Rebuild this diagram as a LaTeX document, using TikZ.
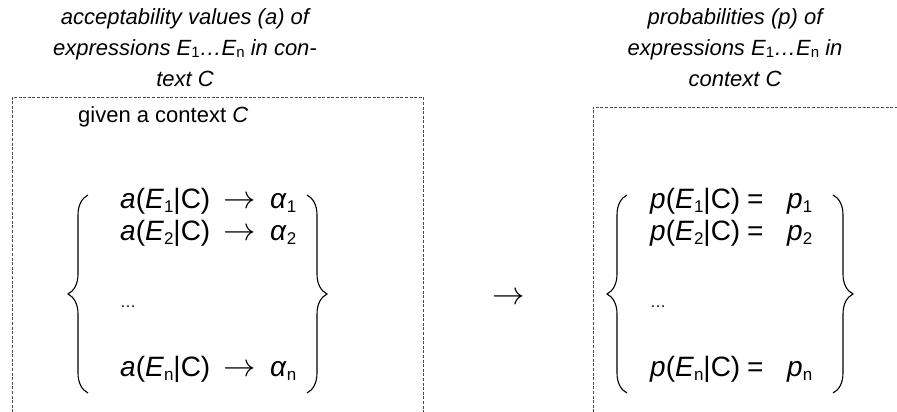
\documentclass[tikz,border=0pt]{standalone}
\usepackage{fontspec}
\usepackage{graphicx}
\setmainfont{Liberation Sans}
\usetikzlibrary{decorations.pathreplacing}
\newcommand\sbx[2]{\raisebox{-0.12em}{\fontsize{#1}{#1}\selectfont\upshape #2}}
\newcommand\myarrow{\scalebox{1.3}{$\rightarrow$}}
\begin{document}
\begin{tikzpicture}[x=1pt,y=1pt,
  box/.style={draw=black!70, line width=0.8pt, dash pattern=on 3pt off 1.6pt},
  ttl/.style={font=\fontsize{22}{31}\selectfont\itshape, align=center, anchor=north, inner sep=0pt},
  rowtxt/.style={font=\fontsize{28}{32}\selectfont, anchor=base west, inner sep=0pt},
  dotstxt/.style={font=\fontsize{16}{16}\selectfont, anchor=base west, inner sep=0pt},
  brc/.style={decorate, decoration={brace, amplitude=20pt}, line width=1.1pt},
]
\useasboundingbox (0,0) rectangle (897,412);
% boxes
\draw[box] (12,-5) -- (12,315) -- (423,315) -- (423,-5);
\draw[box] (593,-5) -- (593,305) -- (905,305);
% titles
\node[ttl] (tl) at (185,404) {acceptability values (a) of\\expressions \textit{E}\sbx{15}{1}…\textit{E}\sbx{15}{n} in con-\\text \textit{C}};
\node[ttl] (tr) at (735,404) {probabilities (p) of\\expressions \textit{E}\sbx{15}{1}…\textit{E}\sbx{15}{n} in\\context \textit{C}};
\node[font=\fontsize{22}{22}\selectfont, anchor=base west, inner sep=0pt] (ctx) at (78,289) {given a context \textit{C}};
% left group
\draw[brc] (88,19) -- (88,217);
\draw[brc] (307,217) -- (307,19);
\node[rowtxt] (a1) at (120,203) {\textit{a}(\textit{E}\sbx{17}{1}|C)};
\node[rowtxt] (a2) at (120,171) {\textit{a}(\textit{E}\sbx{17}{2}|C)};
\node[dotstxt] (ad) at (120,104) {…};
\node[rowtxt] (an) at (120,35) {\textit{a}(\textit{E}\sbx{17}{n}|C)};
\node[rowtxt] (r1) at (223,203) {\myarrow};
\node[rowtxt] (r2) at (223,171) {\myarrow};
\node[rowtxt] (rn) at (223,35) {\myarrow};
\node[rowtxt] (al1) at (270,203) {\textit{α}\sbx{17}{1}};
\node[rowtxt] (al2) at (270,171) {\textit{α}\sbx{17}{2}};
\node[rowtxt] (aln) at (270,35) {\textit{α}\sbx{17}{n}};
% middle arrow
\node[font=\fontsize{28}{28}\selectfont, anchor=west, inner sep=0pt] (mid) at (492,113) {\myarrow};
% right group
\draw[brc] (627,19) -- (627,217);
\draw[brc] (833,217) -- (833,19);
\node[rowtxt] (p1) at (650,203) {\textit{p}(\textit{E}\sbx{17}{1}|C)};
\node[rowtxt] (p2) at (650,171) {\textit{p}(\textit{E}\sbx{17}{2}|C)};
\node[dotstxt] (pd) at (650,104) {…};
\node[rowtxt] (pn) at (650,35) {\textit{p}(\textit{E}\sbx{17}{n}|C)};
\node[rowtxt] (e1) at (747,203) {=};
\node[rowtxt] (e2) at (747,171) {=};
\node[rowtxt] (en) at (747,35) {=};
\node[rowtxt] (q1) at (787,203) {\textit{p}\sbx{17}{1}};
\node[rowtxt] (q2) at (787,171) {\textit{p}\sbx{17}{2}};
\node[rowtxt] (qn) at (787,35) {\textit{p}\sbx{17}{n}};
\end{tikzpicture}
\end{document}
